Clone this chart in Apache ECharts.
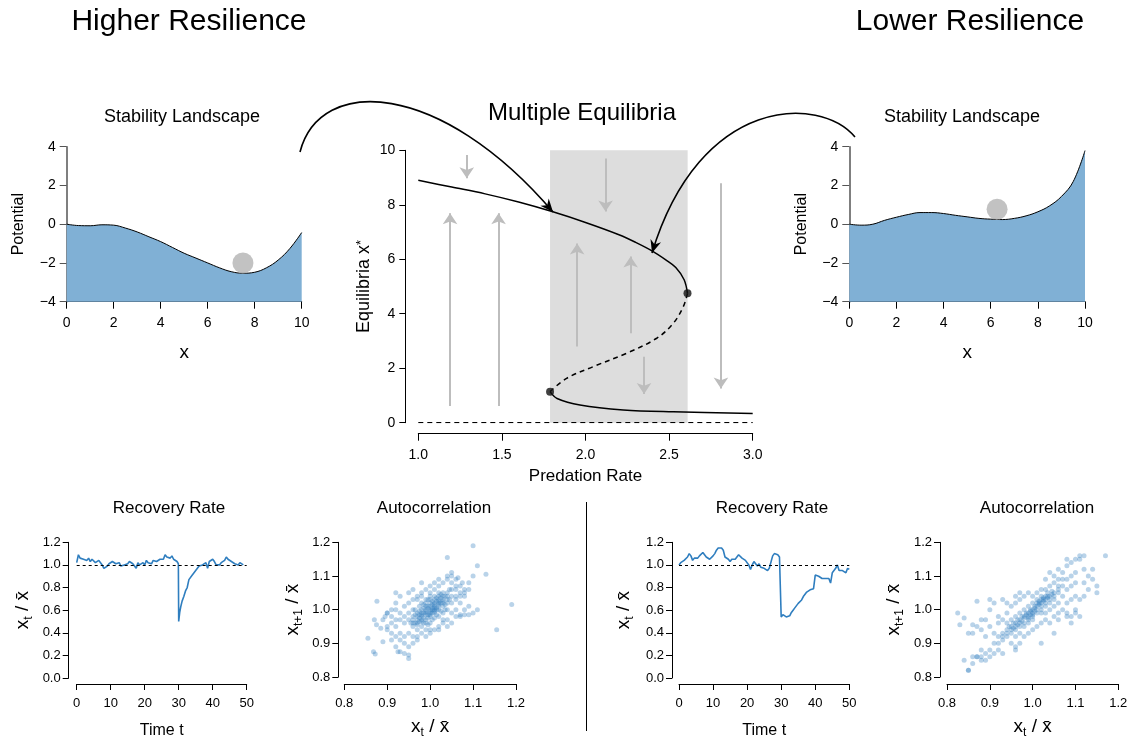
<!DOCTYPE html>
<html>
<head>
<meta charset="utf-8">
<script src="https://cdn.jsdelivr.net/npm/echarts@6/dist/echarts.min.js"></script>
<style>html,body{margin:0;padding:0;background:#fff}#chart{width:1131px;height:740px}</style>
</head>
<body>
<div id="chart"></div>
<script>
const FONT = 'Liberation Sans';

// stability landscapes (x, potential)
const landscapeX = [0, 0.5, 1, 1.5, 2, 2.5, 3, 3.5, 4, 4.5, 5, 5.5, 6, 6.5, 7, 7.5, 8, 8.5, 9, 9.5, 10];
const potentialHigher = [0, -0.07, -0.08, -0.03, -0.05, -0.2, -0.4, -0.65, -0.9, -1.2, -1.5, -1.75, -2.0, -2.25, -2.45, -2.53, -2.48, -2.25, -1.85, -1.25, -0.43];
const potentialLower = [0, -0.05, 0, 0.2, 0.36, 0.5, 0.6, 0.6, 0.55, 0.46, 0.38, 0.3, 0.26, 0.24, 0.3, 0.43, 0.64, 0.95, 1.43, 2.2, 3.8];
const ballHigher = [7.5, -2.0];
const ballLower = [6.27, 0.77];

// bifurcation diagram (predation rate, equilibrium)
const stableUpper = [[1.0, 8.9], [1.2, 8.65], [1.4, 8.4], [1.6, 8.1], [1.8, 7.75], [2.0, 7.35], [2.2, 6.9], [2.3, 6.62], [2.4, 6.3], [2.48, 5.98], [2.54, 5.7], [2.59, 5.25], [2.61, 4.75]];
const unstableMiddle = [[2.61, 4.75], [2.585, 4.26], [2.525, 3.65], [2.426, 3.1], [2.246, 2.55], [2.047, 2.06], [1.887, 1.63], [1.788, 1.14]];
const stableLower = [[1.788, 1.14], [1.83, 0.89], [1.967, 0.65], [2.226, 0.47], [2.525, 0.4], [3.0, 0.34]];
const zeroBranch = [[1.0, 0], [3.0, 0]];
const foldPoints = [[2.61, 4.75], [1.788, 1.14]];
const bistableRange = [1.788, 2.611];
// [rate, from, to]
const flowArrows = [[1.29, 9.83, 8.97], [1.19, 0.61, 7.69], [1.48, 0.61, 7.69], [2.12, 9.7, 7.75], [1.95, 2.8, 6.58], [2.27, 3.28, 6.1], [2.35, 2.42, 1.05], [2.81, 8.79, 1.26]];

// recovery time series [t, x_t / mean]
const recoveryHigher = [[0,1.02],[0.5,1.09],[1,1.06],[1.5,1.07],[2,1.05],[2.5,1.06],[3,1.04],[3.5,1.06],[4,1.03],[4.5,1.05],[5,1.04],[5.5,1.02],[6,1.03],[6.5,1.04],[7,1.02],[7.5,1.0],[8,0.97],[8.5,0.98],[9,0.99],[9.5,1.01],[10,1.02],[10.5,1.03],[11,1.02],[11.5,1.01],[12,1.0],[12.5,1.02],[13,0.99],[13.5,0.98],[14,1.0],[14.5,0.99],[15,1.01],[15.5,1.03],[16,1.02],[16.5,1.01],[17,0.99],[17.5,0.97],[18,1.02],[18.5,1.0],[19,1.01],[19.5,1.02],[20,1.0],[20.5,1.04],[21,1.02],[21.5,1.03],[22,1.01],[22.5,1.04],[23,1.05],[23.5,1.03],[24,1.04],[24.5,1.05],[25,1.06],[25.5,1.05],[26,1.09],[26.5,1.07],[27,1.08],[27.5,1.06],[28,1.08],[28.5,1.05],[29,1.06],[29.5,1.03],[29.9,1.01],[30,0.5],[30.3,0.58],[30.6,0.63],[31,0.68],[31.5,0.72],[32,0.77],[32.5,0.8],[33,0.87],[33.5,0.88],[34,0.91],[34.5,0.93],[35,0.95],[35.5,0.96],[36,0.99],[36.5,1.0],[37,1.0],[37.5,1.01],[38,1.02],[38.5,0.97],[39,1.03],[39.5,1.02],[40,1.05],[40.5,1.03],[41,1.0],[41.5,1.01],[42,1.0],[42.5,1.02],[43,1.03],[43.5,1.04],[44,1.07],[44.5,1.05],[45,1.04],[45.5,1.03],[46,1.02],[46.5,1.01],[47,1.02],[47.5,1.0],[48,1.02],[48.5,1.01],[49,1.0]];
const recoveryLower = [[0,1.0],[0.5,1.02],[1,1.03],[1.5,1.04],[2,1.05],[2.5,1.07],[3,1.1],[3.5,1.08],[4,1.04],[4.5,1.06],[5,1.07],[5.5,1.06],[6,1.08],[6.5,1.09],[7,1.11],[7.5,1.09],[8,1.07],[8.5,1.06],[9,1.05],[9.5,1.06],[10,1.08],[10.5,1.1],[11,1.13],[11.5,1.15],[12,1.16],[12.5,1.15],[13,1.13],[13.5,1.07],[14,1.06],[14.5,1.05],[15,1.03],[15.5,1.05],[16,1.06],[16.5,1.05],[17,1.07],[17.5,1.09],[18,1.08],[18.5,1.06],[19,1.05],[19.5,1.04],[20,1.02],[20.5,1.0],[21,0.96],[21.5,1.0],[22,1.03],[22.5,1.02],[23,0.99],[23.5,1.01],[24,0.98],[24.5,0.99],[25,0.97],[25.5,0.96],[26,0.95],[26.5,0.97],[27,0.96],[27.5,1.08],[28,1.1],[28.5,1.1],[29,1.09],[29.5,1.07],[29.9,1.06],[30,0.54],[30.5,0.56],[31,0.55],[31.5,0.54],[32,0.53],[32.5,0.55],[33,0.58],[33.5,0.6],[34,0.62],[34.5,0.64],[35,0.66],[35.5,0.67],[36,0.69],[36.5,0.72],[37,0.74],[37.5,0.76],[38,0.77],[38.5,0.78],[39,0.78],[39.5,0.79],[39.8,0.8],[40,0.91],[40.5,0.92],[41,0.9],[41.5,0.89],[42,0.88],[42.5,0.87],[43,0.88],[43.5,0.87],[44,0.88],[44.5,0.84],[45,0.93],[45.5,0.95],[46,0.97],[46.5,1.0],[47,0.95],[47.5,0.94],[48,0.95],[48.5,0.94],[49,0.93],[49.5,0.97],[50,0.96]];

// lag plots [x_t, x_t+1]
const lagHigher = [[1.00,1.00],[1.01,1.01],[0.99,0.99],[1.00,0.98],[0.98,0.99],[1.02,1.02],[1.01,0.99],[0.99,1.01],[1.00,1.02],[1.02,1.00],[0.98,0.97],[0.97,0.98],[1.03,1.03],[1.01,1.03],[0.99,0.97],[1.00,0.96],[0.98,1.00],[1.02,1.04],[1.03,1.01],[1.01,1.00],[0.995,0.985],[1.005,1.015],[1.015,1.025],[0.985,0.975],[0.975,0.965],[1.025,1.035],[1.00,1.01],[0.99,1.00],[1.01,1.02],[0.97,0.99],[0.96,0.97],[0.98,0.95],[1.04,1.03],[1.03,1.05],[1.02,1.05],[0.99,0.96],[0.995,1.03],[1.005,0.99],[1.015,1.005],[0.985,1.005],[0.975,0.985],[1.035,1.015],[1.025,0.995],[0.965,0.985],[0.96,0.95],[0.97,0.94],[1.04,1.05],[1.05,1.04],[1.045,1.06],[1.01,1.06],[1.005,1.0],[0.995,1.01],[1.0,0.99],[1.01,0.995],[0.99,0.985],[1.02,1.01],[0.98,0.985],[1.015,1.035],[0.975,0.995],[1.03,1.02],[0.985,0.96],[1.0,1.03],[1.02,1.03],[0.97,0.97],[1.005,1.025],[0.995,0.975],[1.035,1.04],[0.965,0.96],
[0.99,0.995],[1.005,1.005],[1.01,1.015],[0.985,0.99],[1.02,1.015],[0.975,0.975],[1.025,1.02],[0.995,1.005],[1.0,0.985],[1.015,1.0],[0.98,0.98],[1.03,1.025],[0.97,0.96],[1.01,1.04],[0.99,1.02],[1.02,0.98],[0.98,1.02],[1.04,1.02],[0.96,0.98],[1.0,1.04],[0.995,0.955],[1.035,1.0],[0.965,1.0],[1.045,1.03],[0.955,0.96],[1.01,0.975],[0.99,1.03],[1.02,1.025],[0.98,0.965],[1.005,0.97],[1.025,1.045],[0.975,1.01],[1.015,0.985],[0.985,1.015],[1.03,1.04],[0.97,0.955],[1.04,1.04],[0.96,0.96],[1.0,0.995],[1.01,1.005],
[0.95,0.99],[0.94,0.96],[0.93,0.97],[0.95,0.93],[0.96,0.92],[0.94,0.92],[0.92,0.95],[0.93,0.93],[0.91,0.98],[0.92,1.00],[0.94,1.01],[0.95,1.02],[0.96,1.03],[0.97,1.04],[0.98,1.05],[0.99,1.06],[1.00,1.07],[0.98,1.08],[1.02,1.07],[1.03,1.08],[1.04,1.09],[1.05,1.08],[1.06,1.07],[1.07,1.05],[1.06,1.03],[1.05,1.02],[1.06,1.00],[1.07,0.98],[1.05,0.99],[1.04,0.97],[1.03,0.96],[1.02,0.95],[1.01,0.94],[1.00,0.93],[0.99,0.94],[0.97,0.92],[0.96,0.90],[0.95,0.89],[0.94,0.90],[0.93,0.91],[0.92,0.92],[0.91,0.93],[0.90,0.95],[0.89,0.97],[0.90,0.99],[0.92,1.02],[0.93,1.04],[0.95,1.05],[0.96,1.06],[0.98,1.04],
[1.04,1.10],[1.05,1.10],[1.06,1.09],[1.08,1.06],[1.09,1.06],[1.08,1.04],[1.07,1.02],[1.08,1.00],[1.09,1.01],[1.06,0.98],[1.04,1.00],[1.03,0.99],[1.06,1.04],[1.07,1.07],[1.05,1.06],[1.02,1.09],[1.01,1.08],[1.00,1.05],[0.97,1.03],[0.96,1.00],[0.95,0.97],[0.94,0.98],[0.93,0.99],[0.92,0.97],[0.91,0.96],[0.90,0.94],[0.91,0.91],[0.92,0.89],[0.93,0.875],[0.925,0.875],[0.94,0.87],[0.95,0.855],[0.95,0.865],[0.97,0.91],[0.98,0.93],[0.99,0.92],[1.00,0.94],[1.02,0.94],[1.03,0.97],[1.04,0.95],[1.05,0.96],[1.07,0.985],[1.08,0.985],[1.09,1.08],[1.10,1.10],[1.07,1.04],[1.06,1.06],[1.08,1.05],[1.10,0.99],[1.11,1.00],
[1.10,1.19],[1.04,1.155],[1.11,1.13],[1.13,1.105],[1.19,1.015],[1.155,0.94],[0.855,0.915],[0.868,0.875],[0.872,0.868],[0.876,1.025],[0.87,0.97],[0.89,0.905],[0.875,0.955],[0.885,0.945],[0.90,0.99],[0.895,0.98],[0.91,1.0],[0.92,1.05],[1.05,1.11],[1.065,1.095],[1.075,1.08],[1.09,0.985]];
const lagLower = [[0.85,0.82],[0.86,0.84],[0.87,0.86],[0.88,0.86],[0.89,0.87],[0.90,0.88],[0.91,0.90],[0.92,0.90],[0.92,0.92],[0.93,0.91],[0.93,0.93],[0.94,0.92],[0.94,0.94],[0.95,0.93],[0.95,0.95],[0.96,0.94],[0.96,0.96],[0.97,0.95],[0.97,0.97],[0.98,0.96],[0.98,0.98],[0.99,0.97],[0.99,0.99],[1.00,0.98],[1.00,1.00],[1.01,0.99],[1.01,1.01],[1.02,1.00],[1.02,1.02],[1.03,1.01],[1.03,1.03],[1.04,1.02],[1.04,1.04],[1.05,1.03],[1.05,1.05],[1.06,1.05],[1.06,1.07],[1.07,1.07],[1.08,1.09],[1.09,1.10],[1.10,1.11],
[0.975,0.965],[0.985,0.985],[0.995,0.995],[1.005,1.005],[1.015,1.015],[1.025,1.025],[1.035,1.035],[1.01,1.03],[1.02,1.04],[1.00,1.02],[0.99,1.01],[0.98,1.00],[0.97,0.99],[0.96,0.98],[0.95,0.97],[0.94,0.96],[1.02,0.99],[1.03,0.99],[1.04,1.00],[1.05,1.01],[1.00,0.97],[0.99,0.96],[0.98,0.95],[0.97,0.93],[0.96,0.92],[1.03,1.06],[1.04,1.07],[1.05,1.08],[1.02,1.06],[1.01,1.05],[1.00,1.04],[1.015,1.02],[1.025,1.03],[1.035,1.04],[1.045,1.045],[0.965,0.955],[0.955,0.945],[1.005,0.995],[0.995,0.985],
[0.98,0.975],[0.99,0.98],[1.0,0.99],[1.01,1.0],[1.02,1.01],[1.03,1.02],[1.04,1.03],[0.97,0.96],[0.96,0.95],[0.95,0.94],[1.05,1.04],[1.06,1.06],[1.005,1.01],[1.015,1.025],[1.025,1.035],[0.995,1.0],[0.985,0.99],[0.975,0.98],[1.035,1.05],[1.045,1.055],[0.965,0.97],[0.955,0.96],[0.945,0.95],[1.01,1.02],[1.02,1.03],[1.03,1.04],[0.99,0.975],[1.0,0.985],[0.94,0.93],[0.93,0.92],
[0.91,0.93],[0.90,0.95],[0.92,0.96],[0.93,0.97],[0.94,0.99],[0.95,1.01],[0.96,1.02],[0.97,1.03],[0.98,1.04],[0.99,1.05],[0.93,1.03],[0.91,1.02],[0.90,1.00],[0.88,0.97],[0.87,0.95],[0.86,0.93],[0.89,0.92],[0.89,0.85],[0.88,0.85],[0.90,0.86],[0.91,0.87],[0.92,0.88],[0.93,0.87],[0.95,0.90],[0.96,0.89],[0.97,0.90],[0.98,0.92],[0.99,0.93],[1.00,0.94],[1.01,0.95],[1.02,0.96],[1.03,0.97],[1.04,0.96],[1.05,0.98],[1.06,0.99],[1.07,1.00],[1.08,1.02],[1.09,1.03],[1.10,1.04],[1.11,1.03],[1.12,1.04],[1.08,0.99],[1.09,0.98],[1.10,0.99],[1.11,0.98],[1.06,1.02],[1.07,1.04],[1.08,1.06],[1.09,1.07],[1.10,1.08],[1.06,1.09],[1.07,1.11],[1.08,1.13],[1.09,1.14],[1.10,1.15],[1.11,1.16],[1.08,1.15],[1.05,1.10],[1.04,1.11],[1.03,1.09],[1.06,1.12],[1.07,1.09],[1.12,1.12],[1.13,1.10],[1.14,1.09],[1.15,1.07],[1.15,1.05],[1.13,1.06],[1.12,1.08],[1.14,1.12],[1.17,1.16],[1.12,1.16],[1.11,1.15],
[0.79,0.91],[0.82,0.79],[0.825,0.99],[0.83,0.955],[0.84,0.975],[0.85,0.93],[0.86,0.955],[0.87,1.025],[0.85,0.82],[0.86,0.86],[0.88,0.94],[0.89,0.97],[0.90,1.03],[0.92,0.98],[0.94,1.02],[0.96,0.88],[1.02,0.90],[1.05,0.93],[1.08,0.98],[1.09,0.96],[1.10,1.00],[1.06,0.97],[0.96,1.04],[0.97,1.05],[0.87,0.86],[0.88,0.88],[0.84,0.85]];

const BLUE = '#2f7ebf';
const chart = echarts.init(document.getElementById('chart'));

const zip = (xs, ys) => xs.map((x, i) => [x, ys[i]]);
const fmt1 = v => v.toFixed(1);
const fmtMinus = v => String(v).replace('-', '\u2212');

const ratioRich = {
  a: { fontFamily: FONT, fontSize: 19, lineHeight: 24, color: '#000' },
  b: { fontFamily: FONT, fontSize: 12, lineHeight: 12, verticalAlign: 'bottom', color: '#000' }
};
const xtName = '{a|x}{b|t}{a| / x\u0304}';
const xt1Name = '{a|x}{b|t+1}{a| / x\u0304}';

const axis = o => ({
  type: 'value', gridIndex: o.grid, min: o.min, max: o.max, interval: o.interval,
  offset: o.offset || 0,
  name: o.name, nameLocation: 'middle', nameGap: o.nameGap,
  nameTextStyle: { color: '#000', fontFamily: FONT, fontSize: o.nameSize || 16, rich: o.rich },
  splitLine: { show: false },
  axisLine: { show: true, onZero: false, lineStyle: { color: o.lineColor || '#000', width: o.lineWidth || 1 } },
  axisTick: { show: true, length: o.tick || 6, lineStyle: { color: o.lineColor || '#000' } },
  axisLabel: { color: '#000', fontFamily: FONT, fontSize: o.labelSize || 13, margin: o.margin || 8, formatter: o.fmt, showMinLabel: true, showMaxLabel: true }
});

const grids = [
  { left: 66.7, top: 146.7, width: 235, height: 155 },
  { left: 418.3, top: 150.3, width: 334.4, height: 272.4 },
  { left: 849.3, top: 146.7, width: 235.7, height: 155 },
  { left: 76.7, top: 542.3, width: 170, height: 137.7 },
  { left: 344.3, top: 542.3, width: 171.7, height: 137.7 },
  { left: 679, top: 542.3, width: 170.3, height: 137.7 },
  { left: 947, top: 542.3, width: 171.3, height: 137.7 }
];

const xAxes = [
  axis({ grid: 0, min: 0, max: 10, interval: 2, name: 'x', nameGap: 42, nameSize: 19, labelSize: 14, tick: 7, margin: 14 }),
  axis({ grid: 1, min: 1, max: 3, interval: 0.5, name: 'Predation Rate', nameGap: 34, nameSize: 17, labelSize: 14, tick: 7, margin: 14, offset: 11, fmt: fmt1 }),
  axis({ grid: 2, min: 0, max: 10, interval: 2, name: 'x', nameGap: 42, nameSize: 19, labelSize: 14, tick: 7, margin: 14 }),
  axis({ grid: 3, min: 0, max: 50, interval: 10, name: 'Time t', nameGap: 39, offset: 6, margin: 13 }),
  axis({ grid: 4, min: 0.8, max: 1.2, interval: 0.1, name: xtName, rich: ratioRich, nameGap: 31, offset: 7, margin: 13, fmt: fmt1 }),
  axis({ grid: 5, min: 0, max: 50, interval: 10, name: 'Time t', nameGap: 39, offset: 6, margin: 13 }),
  axis({ grid: 6, min: 0.8, max: 1.2, interval: 0.1, name: xtName, rich: ratioRich, nameGap: 31, offset: 7, margin: 13, fmt: fmt1 })
];
const yAxes = [
  axis({ grid: 0, min: -4, max: 4, interval: 2, name: 'Potential', nameGap: 40, nameSize: 16, labelSize: 14, tick: 7, margin: 11, lineColor: '#555', lineWidth: 1.5, fmt: fmtMinus }),
  axis({ grid: 1, min: 0, max: 10, interval: 2, name: 'Equilibria x{s|*}', rich: { s: { fontFamily: FONT, fontSize: 13, lineHeight: 8, verticalAlign: 'top', color: '#000' } }, nameGap: 32, nameSize: 18, labelSize: 14, margin: 10, offset: 13 }),
  axis({ grid: 2, min: -4, max: 4, interval: 2, name: 'Potential', nameGap: 40, nameSize: 16, labelSize: 14, tick: 7, margin: 11, lineColor: '#555', lineWidth: 1.5, fmt: fmtMinus }),
  axis({ grid: 3, min: 0, max: 1.2, interval: 0.2, name: xtName, rich: ratioRich, nameGap: 34, offset: 8, fmt: fmt1 }),
  axis({ grid: 4, min: 0.8, max: 1.2, interval: 0.1, name: xt1Name, rich: ratioRich, nameGap: 34, offset: 6, fmt: fmt1 }),
  axis({ grid: 5, min: 0, max: 1.2, interval: 0.2, name: xtName, rich: ratioRich, nameGap: 36, offset: 7, fmt: fmt1 }),
  axis({ grid: 6, min: 0.8, max: 1.2, interval: 0.1, name: xt1Name, rich: ratioRich, nameGap: 34, offset: 7, fmt: fmt1 })
];

const landscape = (idx, ys) => ({
  type: 'line', xAxisIndex: idx, yAxisIndex: idx, data: zip(landscapeX, ys),
  smooth: 0.4, showSymbol: false, silent: true,
  lineStyle: { color: '#000', width: 1 },
  areaStyle: { color: '#80b0d5', opacity: 1, origin: 'start' }
});
const ball = (idx, p) => ({
  type: 'scatter', xAxisIndex: idx, yAxisIndex: idx, data: [p], symbolSize: 21,
  itemStyle: { color: '#b3b3b3' }, silent: true, z: 5
});
const branch = (data, dashed) => ({
  type: 'line', xAxisIndex: 1, yAxisIndex: 1, data, smooth: 0.35, showSymbol: false, silent: true,
  lineStyle: { color: '#000', width: 1.5, type: dashed ? [5, 4] : 'solid' }, z: 4
});
const recovery = (idx, data) => ({
  type: 'line', xAxisIndex: idx, yAxisIndex: idx, data, showSymbol: false, silent: true,
  lineStyle: { color: BLUE, width: 1.6 },
  markLine: { silent: true, symbol: 'none', label: { show: false }, lineStyle: { color: '#000', type: [3, 3], width: 1 }, data: [{ yAxis: 1 }] }
});
const lag = (idx, data) => ({
  type: 'scatter', xAxisIndex: idx, yAxisIndex: idx, data, symbolSize: 5, silent: true,
  itemStyle: { color: 'rgba(47,126,191,0.42)' }
});

// curved annotation arrows (pixel space)
const curves = [
  { x1: 300, y1: 152, cpx1: 320, cpy1: 75, cpx2: 440, cpy2: 80, x2: 553, y2: 212 },
  { x1: 855, y1: 137, cpx1: 820, cpy1: 95, cpx2: 700, cpy2: 95, x2: 652, y2: 253 }
];
const arrowHead = c => {
  let dx = c.x2 - c.cpx2, dy = c.y2 - c.cpy2;
  const L = Math.hypot(dx, dy); dx /= L; dy /= L;
  const nx = -dy, ny = dx, len = 13, hw = 5.5;
  const bx = c.x2 - dx * len, by = c.y2 - dy * len;
  return [[c.x2, c.y2], [bx + nx * hw, by + ny * hw], [c.x2 - dx * 9, c.y2 - dy * 9], [bx - nx * hw, by - ny * hw]];
};
const text = (s, x, y, size) => ({
  type: 'text', x, y, silent: true,
  style: { text: s, font: size + 'px "' + FONT + '"', fill: '#000', textAlign: 'center', textVerticalAlign: 'middle', align: 'center', verticalAlign: 'middle' }
});

const graphic = [
  text('Higher Resilience', 189, 22, 30),
  text('Lower Resilience', 970, 22, 30),
  text('Multiple Equilibria', 582, 113, 24),
  text('Stability Landscape', 182, 117, 18),
  text('Stability Landscape', 962, 117, 18),
  text('Recovery Rate', 169, 508, 17),
  text('Autocorrelation', 434, 508, 17),
  text('Recovery Rate', 772, 508, 17),
  text('Autocorrelation', 1037, 508, 17),
  { type: 'line', shape: { x1: 586.5, y1: 502, x2: 586.5, y2: 731 }, style: { stroke: '#000', lineWidth: 1 }, silent: true },
  ...curves.map(c => ({ type: 'bezierCurve', shape: c, style: { stroke: '#000', lineWidth: 1.6, fill: null }, silent: true, z: 10 })),
  ...curves.map(c => ({ type: 'polygon', shape: { points: arrowHead(c) }, style: { fill: '#000' }, silent: true, z: 10 }))
];

const option = {
  animation: false,
  backgroundColor: '#fff',
  textStyle: { fontFamily: FONT },
  grid: grids,
  xAxis: xAxes,
  yAxis: yAxes,
  graphic,
  series: [
    landscape(0, potentialHigher),
    ball(0, ballHigher),
    landscape(2, potentialLower),
    ball(2, ballLower),
    {
      type: 'line', xAxisIndex: 1, yAxisIndex: 1, data: zeroBranch, showSymbol: false, silent: true,
      lineStyle: { color: '#000', width: 1.2, type: [5, 4] }, z: 3,
      markArea: {
        silent: true, itemStyle: { color: '#dddddd' },
        data: [[{ coord: [bistableRange[0], 0] }, { coord: [bistableRange[1], 10] }]]
      }
    },
    {
      type: 'lines', coordinateSystem: 'cartesian2d', xAxisIndex: 1, yAxisIndex: 1, silent: true, z: 3,
      symbol: ['none', 'arrow'], symbolSize: 11,
      lineStyle: { color: '#bdbdbd', width: 2, opacity: 1 },
      data: flowArrows.map(a => ({ coords: [[a[0], a[1]], [a[0], a[2]]] }))
    },
    branch(stableUpper, false),
    branch(unstableMiddle, true),
    branch(stableLower, false),
    {
      type: 'scatter', xAxisIndex: 1, yAxisIndex: 1, data: foldPoints, symbolSize: 8, silent: true, z: 6,
      itemStyle: { color: '#111' }
    },
    recovery(3, recoveryHigher),
    lag(4, lagHigher),
    recovery(5, recoveryLower),
    lag(6, lagLower)
  ]
};

chart.setOption(option);
</script>
</body>
</html>
